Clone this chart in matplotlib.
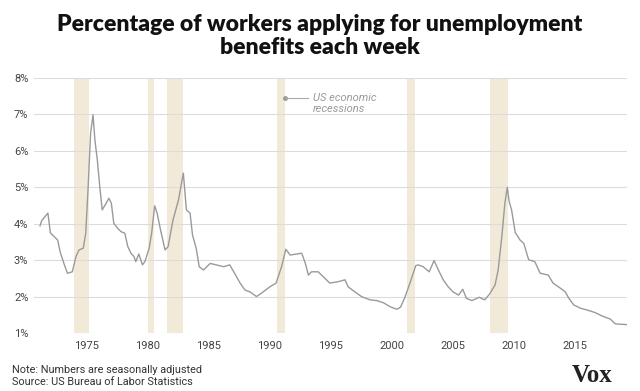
import matplotlib
matplotlib.use("Agg")
import matplotlib.pyplot as plt

# ---- data ----
years = [1971.15, 1971.3, 1971.8, 1972.0, 1972.3, 1972.6, 1972.8, 1973.1, 1973.4, 1973.8,
         1974.1, 1974.35, 1974.7, 1974.9, 1975.1, 1975.3, 1975.5, 1975.65, 1975.85, 1976.05,
         1976.25, 1976.5, 1976.8, 1977.0, 1977.2, 1977.5, 1977.8, 1978.1, 1978.35, 1978.6,
         1978.85, 1979.0, 1979.25, 1979.55, 1979.75, 1980.1, 1980.3, 1980.55, 1980.75, 1981.05,
         1981.4, 1981.65, 1982.05, 1982.5, 1982.9, 1983.15, 1983.45, 1983.65, 1983.95, 1984.2,
         1984.55, 1985.1, 1985.6, 1986.2, 1986.7, 1987.1, 1987.55, 1987.95, 1988.35, 1988.9,
         1989.45, 1990.0, 1990.5, 1990.95, 1991.3, 1991.65, 1992.6, 1992.9, 1993.15, 1993.4,
         1993.95, 1994.35, 1994.9, 1995.6, 1996.15, 1996.4, 1996.95, 1997.5, 1998.2, 1998.75,
         1999.3, 1999.85, 2000.4, 2000.7, 2001.05, 2001.5, 2001.95, 2002.15, 2002.55, 2003.05,
         2003.45, 2003.8, 2004.2, 2004.6, 2005.0, 2005.45, 2005.8, 2006.1, 2006.55, 2007.15,
         2007.6, 2008.0, 2008.45, 2008.7, 2009.0, 2009.25, 2009.45, 2009.6, 2009.8, 2010.1,
         2010.5, 2010.8, 2011.2, 2011.7, 2012.15, 2012.8, 2013.2, 2013.8, 2014.2, 2014.5,
         2014.9, 2015.45, 2016.0, 2016.65, 2017.2, 2017.9, 2018.3, 2019.25]
rate = [3.94, 4.09, 4.29, 3.75, 3.65, 3.55, 3.23, 2.92, 2.64, 2.68,
        3.10, 3.28, 3.33, 3.74, 5.02, 6.49, 6.99, 6.30, 5.75, 5.02,
        4.38, 4.52, 4.70, 4.56, 4.01, 3.88, 3.78, 3.74, 3.37, 3.19,
        3.10, 2.96, 3.17, 2.87, 2.96, 3.33, 3.74, 4.49, 4.29, 3.80,
        3.28, 3.37, 4.10, 4.65, 5.39, 4.38, 4.29, 3.69, 3.33, 2.82,
        2.73, 2.91, 2.87, 2.82, 2.87, 2.64, 2.37, 2.18, 2.13, 2.00,
        2.13, 2.27, 2.37, 2.82, 3.30, 3.14, 3.19, 2.91, 2.59, 2.68,
        2.68, 2.55, 2.37, 2.41, 2.46, 2.27, 2.13, 2.00, 1.91, 1.89,
        1.83, 1.72, 1.65, 1.71, 1.97, 2.40, 2.85, 2.87, 2.82, 2.68,
        2.99, 2.73, 2.46, 2.27, 2.13, 2.04, 2.20, 1.95, 1.89, 1.98,
        1.91, 2.07, 2.32, 2.73, 3.65, 4.56, 5.00, 4.61, 4.38, 3.76,
        3.55, 3.46, 3.01, 2.96, 2.64, 2.59, 2.37, 2.23, 2.13, 1.95,
        1.77, 1.68, 1.63, 1.56, 1.47, 1.38, 1.25, 1.23]

recession_start = [1973.9, 1980.0, 1981.55, 1990.6, 2001.2, 2008.0]
recession_end = [1975.2, 1980.5, 1982.9, 1991.2, 2001.9, 2009.5]

yticks = [1, 2, 3, 4, 5, 6, 7, 8]
ytick_labels = ["1%", "2%", "3%", "4%", "5%", "6%", "7%", "8%"]
xticks = [1975, 1980, 1985, 1990, 1995, 2000, 2005, 2010, 2015]
xtick_labels = ["1975", "1980", "1985", "1990", "1995", "2000", "2005", "2010", "2015"]

title = "Percentage of workers applying for unemployment\nbenefits each week"
legend_label = "US economic\nrecessions"
note = "Note: Numbers are seasonally adjusted\nSource: US Bureau of Labor Statistics"

# ---- figure ----
fig = plt.figure(figsize=(6.4, 3.91), dpi=100)
W, H = 640, 391
left, right = 34 / W, 627 / W
bottom, top = (H - 333) / H, (H - 78) / H
ax = fig.add_axes([left, bottom, right - left, top - bottom])

for s, e in zip(recession_start, recession_end):
    ax.axvspan(s, e, color="#f2ead9", lw=0, zorder=0)

ax.plot(years, rate, color="#9a9a9a", lw=1.0, zorder=3)

ax.set_xlim(1970.66, 2019.26)
ax.set_ylim(1, 8)
ax.set_yticks(yticks)
ax.set_yticklabels(ytick_labels)
ax.set_xticks(xticks)
ax.set_xticklabels(xtick_labels)
ax.yaxis.grid(True, color="#dcdcdc", lw=0.8, zorder=1)
ax.xaxis.grid(False)
for sp in ax.spines.values():
    sp.set_visible(False)
ax.tick_params(axis="both", length=0, labelsize=8, labelcolor="#444444")
ax.tick_params(axis="y", pad=4)
ax.tick_params(axis="x", pad=6)
for lab in ax.get_xticklabels() + ax.get_yticklabels():
    lab.set_fontfamily(["Liberation Sans Narrow", "Roboto", "DejaVu Sans"])

# legend annotation
ax.plot([1991.23], [7.46], marker="o", ms=2.5, color="#999999", zorder=4)
ax.plot([1991.23, 1993.1], [7.46, 7.46], color="#aaaaaa", lw=0.8, zorder=4)
ax.text(1993.5, 7.29, legend_label, fontsize=8, color="#999999", style="italic",
        va="center", ha="left", linespacing=1.1, zorder=4,
        family=["Roboto", "DejaVu Sans"])

fig.text(0.5, (H - 36) / H, title, ha="center", va="center", fontsize=16.5,
         fontweight="heavy", color="#111111", linespacing=1.1,
         family=["Lato", "DejaVu Sans"])

fig.text(12 / W, (H - 376) / H, note, ha="left", va="center", fontsize=7.8,
         color="#333333", linespacing=1.15,
         family=["Liberation Sans Narrow", "Roboto", "DejaVu Sans"])

fig.text(613 / W, (H - 375) / H, "Vox", ha="right", va="center", fontsize=18,
         fontweight="bold", color="#222222", family=["Liberation Serif", "DejaVu Serif"])

fig.savefig("out.png", dpi=100, facecolor="white")
